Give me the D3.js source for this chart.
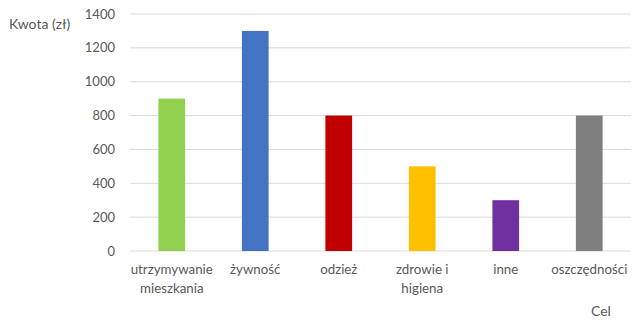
<!DOCTYPE html>
<html>
<head>
<meta charset="utf-8">
<style>
  body { margin: 0; background: #fff; }
  svg { display: block; font-family: Lato, "Open Sans", sans-serif; }
</style>
</head>
<body>
<svg width="640" height="324"></svg>
<script src="https://d3js.org/d3.v7.min.js"></script>
<script>

var categories = ["utrzymywanie mieszkania", "żywność", "odzież", "zdrowie i higiena", "inne", "oszczędności"];
var values = [900, 1300, 800, 500, 300, 800];
var colors = ["#92D050", "#4472C4", "#C00000", "#FFC000", "#7030A0", "#7F7F7F"];
var yTicks = [0, 200, 400, 600, 800, 1000, 1200, 1400];
// wrapped label lines as they appear under the axis
var labelLines = [["utrzymywanie", "mieszkania"], ["żywność"], ["odzież"], ["zdrowie i", "higiena"], ["inne"], ["oszczędności"]];

var svg = d3.select("svg");

var x = d3.scaleBand()
    .domain(categories)
    .range([130, 631])
    .paddingInner(0.68)
    .paddingOuter(0.34);

var y = d3.scaleLinear()
    .domain([0, 1400])
    .range([251, 14]);

// gridlines
svg.append("g")
    .selectAll("line")
    .data(yTicks)
    .join("line")
    .attr("x1", 130)
    .attr("x2", 631)
    .attr("y1", function(d) { return y(d); })
    .attr("y2", function(d) { return y(d); })
    .attr("stroke", "#d9d9d9")
    .attr("stroke-width", 1);

// y tick labels
svg.append("g")
    .selectAll("text")
    .data(yTicks)
    .join("text")
    .attr("x", 115)
    .attr("y", function(d) { return y(d); })
    .attr("dy", "0.35em")
    .attr("text-anchor", "end")
    .attr("font-size", 13)
    .attr("fill", "#595959")
    .text(function(d) { return d; });

// bars
svg.append("g")
    .selectAll("rect")
    .data(values)
    .join("rect")
    .attr("x", function(d, i) { return x(categories[i]); })
    .attr("width", x.bandwidth())
    .attr("y", function(d) { return y(d); })
    .attr("height", function(d) { return y(0) - y(d); })
    .attr("fill", function(d, i) { return colors[i]; });

// x labels
var lab = svg.append("g")
    .selectAll("text")
    .data(categories)
    .join("text")
    .attr("text-anchor", "middle")
    .attr("font-size", 13.3)
    .attr("fill", "#595959")
    .attr("transform", function(d) { return "translate(" + (x(d) + x.bandwidth() / 2) + ",274)"; });

lab.selectAll("tspan")
    .data(function(d, i) { return labelLines[i]; })
    .join("tspan")
    .attr("x", 0)
    .attr("dy", function(d, i) { return i === 0 ? 0 : 19; })
    .text(function(d) { return d; });

// axis titles
svg.append("text")
    .attr("x", 9)
    .attr("y", 29)
    .attr("font-size", 14)
    .attr("fill", "#595959")
    .text("Kwota (zł)");

svg.append("text")
    .attr("x", 591)
    .attr("y", 316)
    .attr("font-size", 14)
    .attr("fill", "#595959")
    .text("Cel");

</script>
</body>
</html>
